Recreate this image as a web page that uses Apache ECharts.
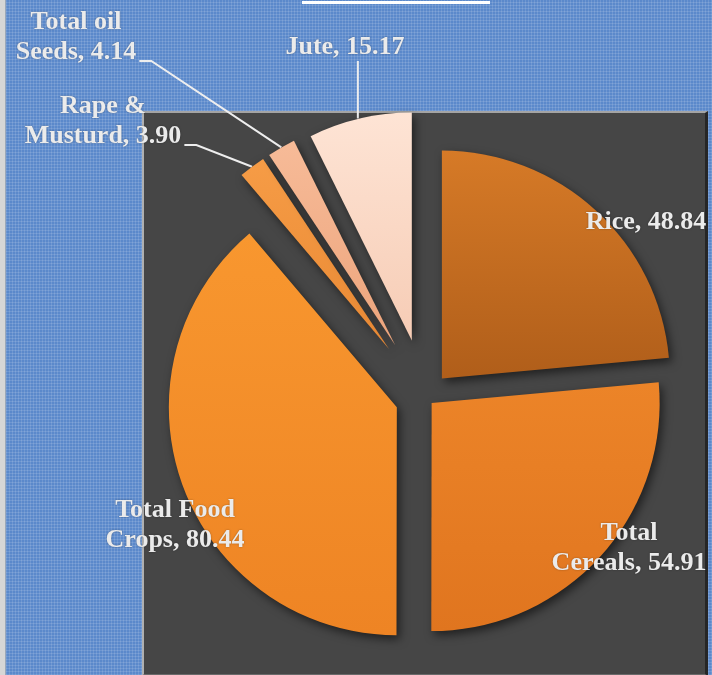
<!DOCTYPE html>
<html>
<head>
<meta charset="utf-8">
<script src="https://cdn.jsdelivr.net/npm/echarts@6/dist/echarts.min.js"></script>
<style>
body { margin: 0; }
#wrap {
  position: relative; width: 712px; height: 675px; overflow: hidden;
  background-color: #5b89cb;
  background-image:
    repeating-linear-gradient(0deg, rgba(255,255,255,0.12) 0 1px, transparent 1px 3px),
    repeating-linear-gradient(90deg, rgba(255,255,255,0.12) 0 1px, transparent 1px 3px);
}
#strip { position: absolute; left: 0; top: 0; width: 5px; height: 675px; background: #d6d6d6; border-right: 1px solid #9aa7b8; }
#panel {
  position: absolute; left: 142px; top: 111px; width: 561px; height: 561px; background: #464646;
  border-left: 2px solid #b0b0b0; border-top: 2px solid #a4a4a4; border-right: 3px solid #262626; border-bottom: 2px solid #6a6a6a;
}
#uline { position: absolute; left: 302px; top: 1px; width: 188px; height: 3px; background: #ffffff; }
#chart { position: absolute; left: 0; top: 0; width: 712px; height: 675px; }
</style>
</head>
<body>
<div id="wrap">
  <div id="strip"></div>
  <div id="uline"></div>
  <div id="panel"></div>
  <div id="chart"></div>
</div>
<script>
var categories = ['Rice', 'Total\nCereals', 'Total Food\nCrops', 'Rape &\nMusturd', 'Total oil\nSeeds', 'Jute'];
var values = [48.84, 54.91, 80.44, 3.90, 4.14, 15.17];

// styling per slice
var sliceColors = [
  ['#d67a27', '#b05e1a'],
  ['#ec8428', '#e0751f'],
  ['#f8972f', '#ee8424'],
  ['#f69c46', '#e98934'],
  ['#f7bb98', '#eca47c'],
  ['#fee4d5', '#f6ccb5']
];
var explode = [25, 9, 30, 60, 60, 58];
var labelPos = [[646, 222], [629, 548], [175, 525], [103, 121], [76, 37], [345, 47]];
var leader = [null, null, null, 'side', 'side', 'down'];

var pieCenter = [425, 397];
var pieRadius = 228;

var chart = echarts.init(document.getElementById('chart'));

var total = values.reduce(function (a, b) { return a + b; }, 0);
var acc = 0;

var series = categories.map(function (name, i) {
  // push each slice out along its own mid angle
  var mid = (acc + values[i] / 2) / total * 2 * Math.PI;
  acc += values[i];
  var cx = pieCenter[0] + explode[i] * Math.sin(mid);
  var cy = pieCenter[1] - explode[i] * Math.cos(mid);
  return {
    type: 'pie',
    center: [cx, cy],
    radius: pieRadius,
    startAngle: 90,
    avoidLabelOverlap: false,
    silent: true,
    emphasis: { disabled: true },
    label: {
      show: true,
      position: 'outside',
      formatter: function (p) { return p.name + ', ' + p.value.toFixed(2); },
      color: '#ebebeb',
      fontFamily: 'Liberation Serif',
      fontWeight: 'bold',
      fontSize: 26,
      lineHeight: 30,
      textShadowColor: 'rgba(0,0,0,0.35)',
      textShadowBlur: 2
    },
    labelLine: {
      show: !!leader[i],
      length: 10,
      length2: 10,
      lineStyle: { color: '#eeeeee', width: 2 }
    },
    labelLayout: function (params) {
      var x = labelPos[i][0], y = labelPos[i][1];
      var out = { x: x, y: y, align: 'center', verticalAlign: 'middle' };
      var pts = params.labelLinePoints;
      if (leader[i] && pts) {
        var w = params.labelRect.width, h = params.labelRect.height;
        var p0 = pts[0];
        if (leader[i] === 'down') {
          var by = y + h / 2 - 1;
          out.labelLinePoints = [[p0[0] - 2, p0[1]], [p0[0] - 2, by], [p0[0] - 2, by]];
        } else {
          var ly = y + h / 2 - 6;
          var rx = x + w / 2 + 3;
          out.labelLinePoints = [p0, [rx + 12, ly], [rx, ly]];
        }
      }
      return out;
    },
    data: values.map(function (v, j) {
      if (j !== i) {
        return {
          name: categories[j], value: v,
          itemStyle: { color: 'transparent', shadowColor: 'transparent', borderWidth: 0 },
          label: { show: false }, labelLine: { show: false }
        };
      }
      return {
        name: categories[j], value: v,
        itemStyle: {
          color: {
            type: 'linear', x: 0, y: 0, x2: 0, y2: 1,
            colorStops: [{ offset: 0, color: sliceColors[j][0] }, { offset: 1, color: sliceColors[j][1] }]
          },
          borderWidth: 0,
          shadowBlur: 10,
          shadowColor: 'rgba(0,0,0,0.55)',
          shadowOffsetX: 3,
          shadowOffsetY: 4
        }
      };
    })
  };
});

chart.setOption({
  animation: false,
  backgroundColor: 'transparent',
  series: series
});
</script>
</body>
</html>
